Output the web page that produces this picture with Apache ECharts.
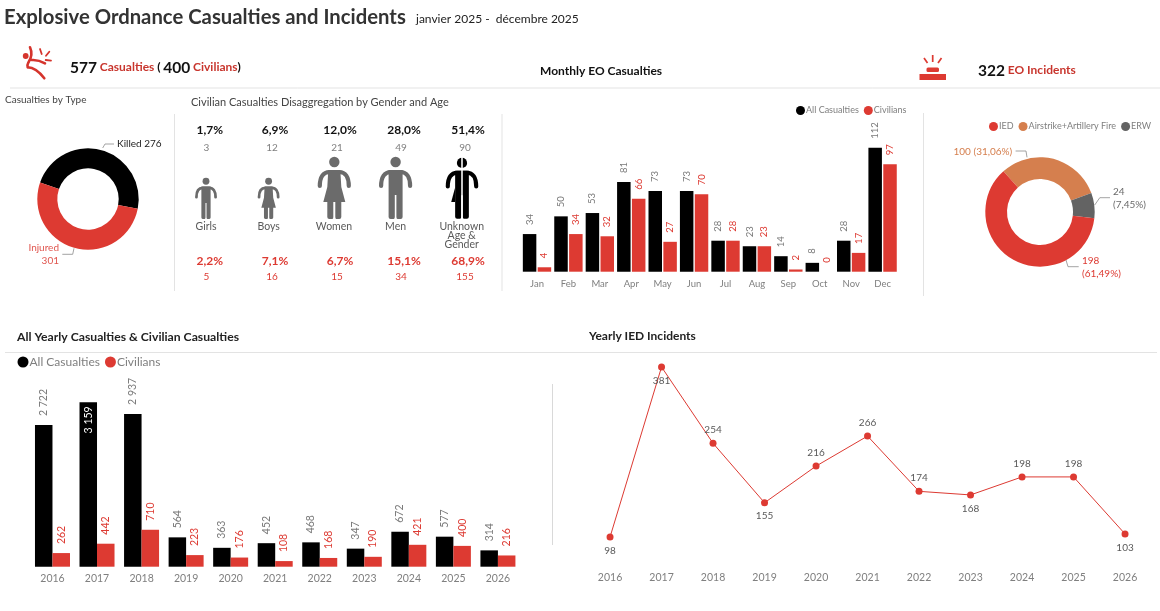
<!DOCTYPE html>
<html><head><meta charset="utf-8">
<style>html,body{margin:0;padding:0;background:#fff}#c{width:1160px;height:611px}</style>
<script src="https://cdn.jsdelivr.net/npm/echarts@6/dist/echarts.min.js"></script>
</head><body><div id="c"></div>
<script>
const months=['Jan','Feb','Mar','Apr','May','Jun','Jul','Aug','Sep','Oct','Nov','Dec'];
const monthAll=[34,50,53,81,73,73,28,23,14,8,28,112];
const monthCiv=[4,34,32,66,27,70,28,23,2,0,17,97];
const years=['2016','2017','2018','2019','2020','2021','2022','2023','2024','2025','2026'];
const yearAll=[2722,3159,2937,564,363,452,468,347,672,577,314];
const yearCiv=[262,442,710,223,176,108,168,190,421,400,216];
const iedIncidents=[98,381,254,155,216,266,174,168,198,198,103];
const typeNames=['Killed','Injured'];
const typeValues=[276,301];
const incidentNames=['Airstrike+Artillery Fire','ERW','IED'];
const incidentValues=[100,24,198];
const incidentLabels=['100 (31,06%)','24\n(7,45%)','198\n(61,49%)'];
const groups=['Girls','Boys','Women','Men','Unknown\nAge &\nGender'];
const allPct=['1,7%','6,9%','12,0%','28,0%','51,4%'];
const allCount=['3','12','21','49','90'];
const civPct=['2,2%','7,1%','6,7%','15,1%','68,9%'];
const civCount=['5','16','15','34','155'];

const RED='#dd3a32',GREY='#6b6b6b',ORANGE='#d57f4e',DARK='#636363',F='Lato';
const chart=echarts.init(document.getElementById('c'),null,{renderer:'canvas'});
const thousands=v=>String(v).replace(/\B(?=(\d{3})+$)/g,' ');
let shapeCount=0;
const pathEl=(d,style)=>{const n='iconPath'+(shapeCount++);echarts.graphic.registerShape(n,echarts.graphic.extendPath(d,{}));return {type:n,style};};
const txt=(x,y,text,o={})=>({type:'text',x,y,silent:true,style:Object.assign({text,font:`${o.weight||'normal'} ${o.size||11}px ${F}`,fill:o.color||GREY,align:o.align||'center',verticalAlign:'middle'},o.rich?{rich:o.rich}:{})});
const rule=(x1,y1,x2,y2,c='#e3e3e3')=>({type:'line',silent:true,shape:{x1,y1,x2,y2},style:{stroke:c,lineWidth:1}});

function figure(cx,top,s,kind,color){
  const children=[
    {type:'circle',shape:{cx:0,cy:5,r:5.2},style:{fill:color}},
    pathEl('M-14.5,29 C-14.5,20 -11,15 -5,15 L5,15 C11,15 14.5,20 14.5,29',{fill:'none',stroke:color,lineWidth:4.2,lineCap:'round'})
  ];
  if(kind==='dress'){
    children.push(pathEl('M-6,13 L6,13 L7,30 L11,45 L7,45 L7,60 Q7,62 5,62 L2,62 Q1,62 1,60 L1,45 L-1,45 L-1,60 Q-1,62 -2,62 L-5,62 Q-7,62 -7,60 L-7,45 L-11,45 L-7,30 Z',{fill:color}));
  } else {
    children.push(pathEl('M-7,13 L7,13 L7,60 Q7,62 5,62 L2,62 Q0.8,62 0.8,60 L0.8,38 L-0.8,38 L-0.8,60 Q-0.8,62 -2,62 L-5,62 Q-7,62 -7,60 Z',{fill:color}));
  }
  if(kind==='split'){
    children.push(pathEl('M-7,30 L-11,45 L-7,45 Z',{fill:color}));
    children.push({type:'line',shape:{x1:0,y1:-1,x2:0,y2:63},style:{stroke:'#fff',lineWidth:1.6}});
  }
  return {type:'group',x:cx,y:top,scaleX:s,scaleY:s,silent:true,children};
}

const gx={pct:[209.7,275,340,404,468],cnt:[206.5,272,337,401,465],lab:[206,268.6,334,395.6,461.7]};
const g=[];
g.push(rule(10,88,1160,88),rule(5,352.5,1157,352.5),rule(174.5,114,174.5,291),rule(502,114,502,291),rule(923.5,113,923.5,296),rule(552.5,384,552.5,545,'#d9d9d9'));
g.push(txt(416,19,'janvier 2025 -  décembre 2025',{align:'left',size:12,color:'#222'}));
g.push(txt(70,67.5,'{a|577} {b|Casualties} {c|(} {a|400} {b|Civilians}{c|)}',{align:'left',rich:{a:{font:`bold 15.5px ${F}`,fill:'#111'},b:{font:`bold 12px ${F}`,fill:'#c8352d'},c:{font:`bold 12px ${F}`,fill:'#111'}}}));
g.push(txt(978,70.5,'{a|322} {b|EO Incidents}',{align:'left',rich:{a:{font:`bold 15.5px ${F}`,fill:'#111'},b:{font:`bold 12px ${F}`,fill:'#c8352d'}}}));
groups.forEach((name,i)=>{
  g.push(txt(gx.pct[i],130,allPct[i],{weight:'bold',size:12,color:'#111'}));
  g.push(txt(gx.cnt[i],148,allCount[i],{size:10,color:'#808080'}));
  name.split('\n').forEach((l,j)=>g.push(txt(gx.lab[i],227+j*9,l,{size:10.5,color:'#595959'})));
  g.push(txt(gx.pct[i],261,civPct[i],{weight:'bold',size:12,color:RED}));
  g.push(txt(gx.cnt[i],277,civCount[i],{size:10,color:RED}));
});
g.push(figure(206,178,.66,'man',GREY),figure(268.6,178,.66,'dress',GREY),figure(334.3,157,1,'dress',GREY),figure(395.6,157,1,'man',GREY),figure(462,158,.98,'split','#000'));
const iconStroke={fill:'none',stroke:'#d5342c',lineWidth:2.6,lineCap:'round',lineJoin:'round'};
g.push({type:'group',silent:true,children:[
  {type:'circle',shape:{cx:25.7,cy:56,r:2.9},style:{fill:'#d5342c'}},
  pathEl('M30,47.3 Q33.5,55 28.3,62.7 Q27,65 27.7,67.3 M31.7,60 Q38.3,59.5 45,63.3 M27.7,67.3 Q36,67.5 44.3,78.3',iconStroke),
  pathEl('M40,49 L41.7,54 M49.3,51.7 L46,55.7 M51,60.7 L45.7,60',Object.assign({},iconStroke,{lineWidth:1.8}))
]});
g.push({type:'group',silent:true,children:[
  {type:'rect',shape:{x:919.5,y:74,width:26.5,height:6},style:{fill:RED}},
  {type:'rect',shape:{x:926.5,y:67.5,width:12.5,height:4.5,r:1.5},style:{fill:RED}},
  pathEl('M932.7,55 L932.7,62 M924,58 L927.5,63 M941.5,58 L938,63',{fill:'none',stroke:RED,lineWidth:1.7})
]});

const barLabel=(color,fontSize,distance,fmt)=>({show:true,position:'top',rotate:90,align:'left',verticalAlign:'middle',distance,color,fontSize,fontFamily:F,formatter:fmt});
const maxYear=Math.max(...yearAll);
const yearAllData=yearAll.map(v=>v===maxYear?{value:v,label:{position:'insideTop',rotate:90,align:'right',verticalAlign:'middle',distance:4,color:'#fff'}}:v);
const belowPoints=new Set(['2016','2017','2019','2023','2026']);
const iedData=iedIncidents.map((v,i)=>({value:v,label:{position:belowPoints.has(years[i])?'bottom':'top'}}));

const cat=(gridIndex,data,size,margin)=>({type:'category',gridIndex,data,axisTick:{show:false},axisLine:{show:false},axisLabel:{color:'#7f7f7f',fontSize:size,fontFamily:F,margin}});
const val=(gridIndex,min,max)=>({type:'value',gridIndex,min,max,show:false,splitLine:{show:false}});
const legendBase=(names,left,top,size,gap)=>({data:names,left,top,icon:'circle',itemWidth:size>11?11:9,itemHeight:size>11?11:9,itemGap:gap,selectedMode:false,padding:0,textStyle:{color:'#7f7f7f',fontSize:size,fontFamily:F,padding:[0,0,0,-4]}});
const ttl=(text,left,top,size,weight,color)=>({text,left,top,padding:0,textStyle:{fontFamily:F,fontSize:size,fontWeight:weight,color:color}});
const lineGrey={color:'#8c8c8c',width:.8};

chart.setOption({
  animation:false,
  backgroundColor:'#fff',
  textStyle:{fontFamily:F},
  title:[
    ttl('Explosive Ordnance Casualties and Incidents',4,7,20.3,'bold','#333'),
    ttl('Casualties by Type',5,94.5,10,'normal','#444'),
    ttl('Civilian Casualties Disaggregation by Gender and Age',191,97,11,'normal','#444'),
    ttl('Monthly EO Casualties',540,65,12,'bold','#111'),
    ttl('All Yearly Casualties & Civilian Casualties',17,331,12.2,'bold','#222'),
    ttl('Yearly IED Incidents',589,330,12,'bold','#222')
  ],
  legend:[
    legendBase(['All Casualties','Civilians'],796,106,9,5),
    legendBase(['IED','Airstrike+Artillery Fire','ERW'],989,122,9,5),
    legendBase(['All Casualties','Civilians'],17.5,356,12,5)
  ],
  grid:[
    {left:521.3,width:377,top:127.8,height:143.9},
    {left:30.2,width:490,top:379.4,height:187.3},
    {left:584.3,width:566.5,top:355.6,height:210.2}
  ],
  xAxis:[cat(0,months,9.5,7),cat(1,years,10.5,6),cat(2,years,10.5,6)],
  yAxis:[val(0,0,130),val(1,0,3600),val(2,50,400)],
  series:[
    {type:'bar',name:'All Casualties',xAxisIndex:0,yAxisIndex:0,data:monthAll,barWidth:13.5,barGap:'10%',itemStyle:{color:'#000'},label:barLabel('#7a7a7a',9.5,9)},
    {type:'bar',name:'Civilians',xAxisIndex:0,yAxisIndex:0,data:monthCiv,barWidth:13.5,barGap:'10%',itemStyle:{color:RED},label:barLabel(RED,9.5,9)},
    {type:'bar',name:'All Casualties',xAxisIndex:1,yAxisIndex:1,data:yearAllData,barWidth:17.5,barGap:0,itemStyle:{color:'#000'},label:barLabel('#7a7a7a',10.5,9,p=>thousands(p.value))},
    {type:'bar',name:'Civilians',xAxisIndex:1,yAxisIndex:1,data:yearCiv,barWidth:17.5,barGap:0,itemStyle:{color:RED},label:barLabel(RED,10.5,9,p=>thousands(p.value))},
    {type:'line',name:'Yearly IED Incidents',xAxisIndex:2,yAxisIndex:2,data:iedData,symbol:'circle',symbolSize:7,lineStyle:{color:RED,width:1},itemStyle:{color:RED},label:{show:true,color:'#595959',fontSize:10,fontFamily:F,distance:5}},
    {type:'pie',name:'Casualties by Type',center:[88,199],radius:[30.7,50.7],startAngle:161,clockwise:true,
      data:typeNames.map((n,i)=>({name:n,value:typeValues[i],itemStyle:{color:i?RED:'#000'},label:{color:i?'#e0554e':'#222',align:i?'right':'left'}})),
      label:{fontSize:10,fontFamily:F,lineHeight:13,formatter:p=>p.dataIndex?`${p.name}\n${p.value}`:`${p.name} ${p.value}`},
      labelLine:{show:true,lineStyle:lineGrey,length:6,length2:6},
      labelLayout:p=>p.dataIndex
        ?{x:59,y:254.5,align:'right',verticalAlign:'middle',labelLinePoints:[[74,248.3],[72.7,254.3],[62.3,254.3]]}
        :{x:117,y:144,align:'left',verticalAlign:'middle',labelLinePoints:[[102.7,148],[105,144],[114,144]]}},
    {type:'pie',name:'EO Incidents',center:[1040,212],radius:[33,54.7],startAngle:132,clockwise:true,
      data:incidentNames.map((n,i)=>({name:n,value:incidentValues[i],itemStyle:{color:[ORANGE,DARK,RED][i]},label:{color:[ORANGE,'#6b6b6b',RED][i],align:'left'}})),
      label:{fontSize:10,fontFamily:F,lineHeight:13,formatter:p=>incidentLabels[p.dataIndex]},
      labelLine:{show:true,lineStyle:lineGrey,length:6,length2:6},
      labelLayout:p=>[
        {x:953.5,y:152,align:'left',verticalAlign:'middle',labelLinePoints:[[1015.6,151],[1026,151],[1027,157.3]]},
        {x:1113,y:198.5,align:'left',verticalAlign:'middle',labelLinePoints:[[1094.7,205],[1099.8,197.7],[1110,197.7]]},
        {x:1082,y:267.4,align:'left',verticalAlign:'middle',labelLinePoints:[[1066,260],[1068,266.7],[1078.7,266.7]]}
      ][p.dataIndex]}
  ],
  graphic:{elements:g}
});
</script></body></html>
